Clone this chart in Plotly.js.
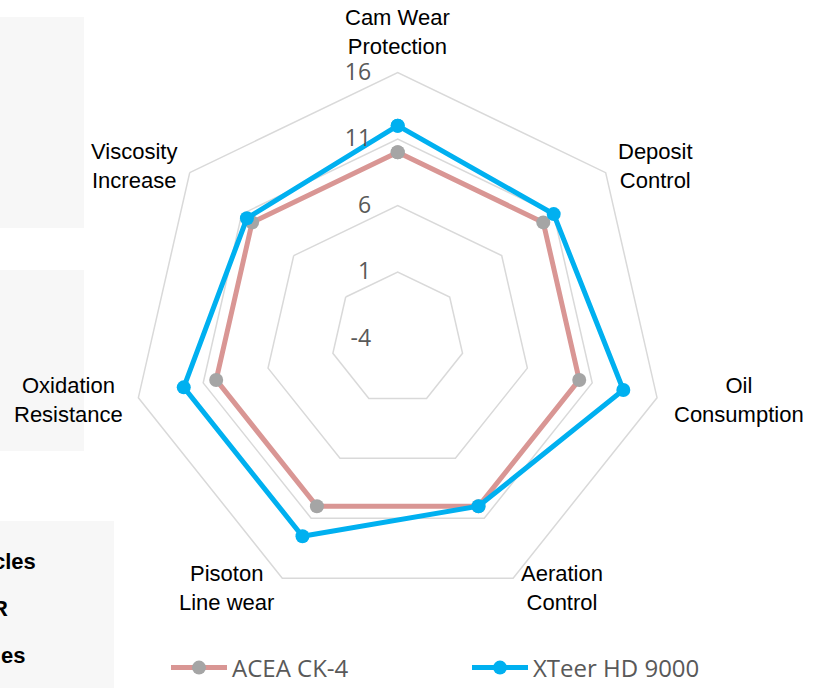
<!DOCTYPE html>
<html>
<head>
<meta charset="utf-8">
<script src="https://cdn.plot.ly/plotly-3.0.1.min.js"></script>
<style>html,body{margin:0;padding:0;background:#fff;}#chart{width:815px;height:688px;}</style>
</head>
<body>
<div id="chart"></div>
<script>
// ---- data ----
var categories = ["Cam Wear<br>Protection", "Deposit<br>Control", "Oil<br>Consumption", "Aeration<br>Control", "Pisoton<br>Line wear", "Oxidation<br>Resistance", "Viscosity<br>Increase"];
var seriesNames = ["ACEA CK-4", "XTeer HD 9000"];
var aceaValues = [10, 10, 10, 10, 10, 10, 10];
var xteerValues = [12, 11, 13.4, 10, 12.5, 12.5, 10.5];
var radialTicks = [-4, 1, 6, 11, 16];
var sideTexts = ["cles", "R", "es"];

// ---- layout helpers ----
var W = 815, H = 688;
function px(x){ return x / W; }
function py(y){ return 1 - y / H; }

function closed(a){ return a.concat([a[0]]); }

var traces = [
  {
    type: "scatterpolar",
    name: seriesNames[0],
    r: closed(aceaValues),
    theta: closed(categories),
    mode: "lines+markers",
    line: {color: "#d99694", width: 5},
    marker: {color: "#a5a5a5", size: 14, line: {width: 0}},
    cliponaxis: false
  },
  {
    type: "scatterpolar",
    name: seriesNames[1],
    r: closed(xteerValues),
    theta: closed(categories),
    mode: "lines+markers",
    line: {color: "#00b0f0", width: 5},
    marker: {color: "#00b0f0", size: 14, line: {width: 0}},
    cliponaxis: false
  }
];

// category label positions (px centers)
var labelPos = [[397, 32], [655, 166], [739, 400], [562, 588], [226, 588], [68, 400], [134, 166]];
var annotations = categories.map(function(c, i){
  return {
    xref: "paper", yref: "paper",
    x: px(labelPos[i][0]), y: py(labelPos[i][1]),
    xanchor: "center", yanchor: "middle",
    text: c, showarrow: false, align: "center",
    font: {family: "Liberation Sans, Arial, sans-serif", size: 22, color: "#000"}
  };
});
var sidePos = [[38, 561], [10, 608], [27, 655]];
sideTexts.forEach(function(t, i){
  annotations.push({
    xref: "paper", yref: "paper",
    x: px(sidePos[i][0]), y: py(sidePos[i][1]),
    xanchor: "right", yanchor: "middle",
    text: "<b>" + t + "</b>", showarrow: false,
    font: {family: "Liberation Sans, Arial, sans-serif", size: 22, color: "#000"}
  });
});

var shapes = [
  {type: "rect", xref: "paper", yref: "paper", x0: px(0), x1: px(84), y0: py(17), y1: py(228), fillcolor: "#f7f7f7", line: {width: 0}, layer: "below"},
  {type: "rect", xref: "paper", yref: "paper", x0: px(0), x1: px(84), y0: py(270), y1: py(451), fillcolor: "#f7f7f7", line: {width: 0}, layer: "below"},
  {type: "rect", xref: "paper", yref: "paper", x0: px(0), x1: px(114), y0: py(521), y1: py(688), fillcolor: "#f7f7f7", line: {width: 0}, layer: "below"}
];

var cx = 397.7, cy = 338.5, R = 266;
var layout = {
  width: W, height: H,
  margin: {l: 0, r: 0, t: 0, b: 0, autoexpand: false},
  paper_bgcolor: "rgba(0,0,0,0)",
  plot_bgcolor: "rgba(0,0,0,0)",
  showlegend: true,
  legend: {
    orientation: "h",
    x: px(166), y: py(668), xanchor: "left", yanchor: "middle",
    font: {family: "Open Sans, Noto Sans, sans-serif", size: 24, color: "#595959"},
    entrywidth: 230, entrywidthmode: "pixels",
    itemwidth: 56,
    bgcolor: "rgba(0,0,0,0)"
  },
  polar: {
    domain: {x: [px(cx - R), px(cx + R)], y: [py(cy + R), py(cy - R)]},
    gridshape: "linear",
    bgcolor: "rgba(0,0,0,0)",
    angularaxis: {
      rotation: 90, direction: "clockwise",
      showticklabels: false, ticks: "",
      showgrid: false,
      showline: true, linecolor: "#d9d9d9", linewidth: 1.5
    },
    radialaxis: {
      range: [-4, 16],
      angle: 90,
      tickvals: radialTicks,
      ticktext: radialTicks.map(String),
      showline: false,
      ticks: "outside", ticklen: 18, tickcolor: "rgba(0,0,0,0)",
      gridcolor: "#d9d9d9", gridwidth: 1.5,
      tickangle: 90,
      side: "counterclockwise",
      tickfont: {family: "Open Sans, Noto Sans, sans-serif", size: 23, color: "#595959"}
    }
  },
  annotations: annotations,
  shapes: shapes
};

Plotly.newPlot("chart", traces, layout, {displayModeBar: false, staticPlot: true});
</script>
</body>
</html>
